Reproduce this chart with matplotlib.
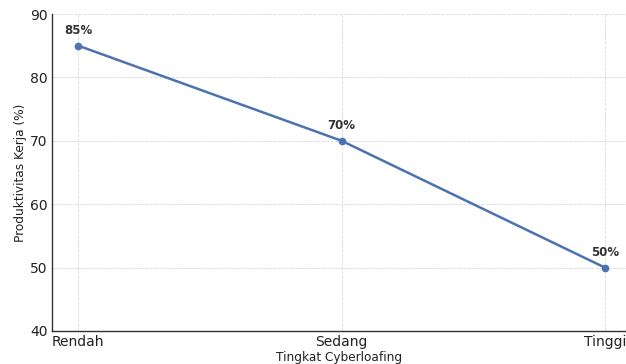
import matplotlib
matplotlib.use('Agg')
import matplotlib.pyplot as plt

# data
levels = ['Rendah', 'Sedang', 'Tinggi']
productivity = [85, 70, 50]
yticks = [40, 50, 60, 70, 80, 90]

fig = plt.figure(figsize=(6.26, 3.64), dpi=100)
ax = fig.add_axes([52 / 626, 33 / 364, 574 / 626, 317 / 364])

x = list(range(len(levels)))
ax.plot(x, productivity, color='#4C72B0', linewidth=1.8, marker='o', markersize=4.5)

for xi, v in zip(x, productivity):
    ax.annotate('{}%'.format(v), (xi, v), xytext=(0, 6.5), textcoords='offset points',
                ha='center', va='bottom', fontsize=8.5, fontweight='bold', color='#333333')

ax.set_xlim(-0.1, 2.08)
ax.set_ylim(40, 90)
ax.set_xticks(x)
ax.set_xticklabels(levels)
ax.set_yticks(yticks)
ax.tick_params(axis='both', length=0, labelsize=10, colors='#222222', pad=3)

ax.grid(True, linestyle='--', linewidth=0.6, color='#d8d8d8')
ax.set_axisbelow(True)
for s in ['top', 'right']:
    ax.spines[s].set_visible(False)
for s in ['left', 'bottom']:
    ax.spines[s].set_color('#333333')
    ax.spines[s].set_linewidth(1.0)

ax.set_xlabel('Tingkat Cyberloafing', fontsize=8.7, color='#222222', labelpad=1)
ax.set_ylabel('Produktivitas Kerja (%)', fontsize=8.7, color='#222222', labelpad=2)

fig.savefig('out.png', dpi=100)
